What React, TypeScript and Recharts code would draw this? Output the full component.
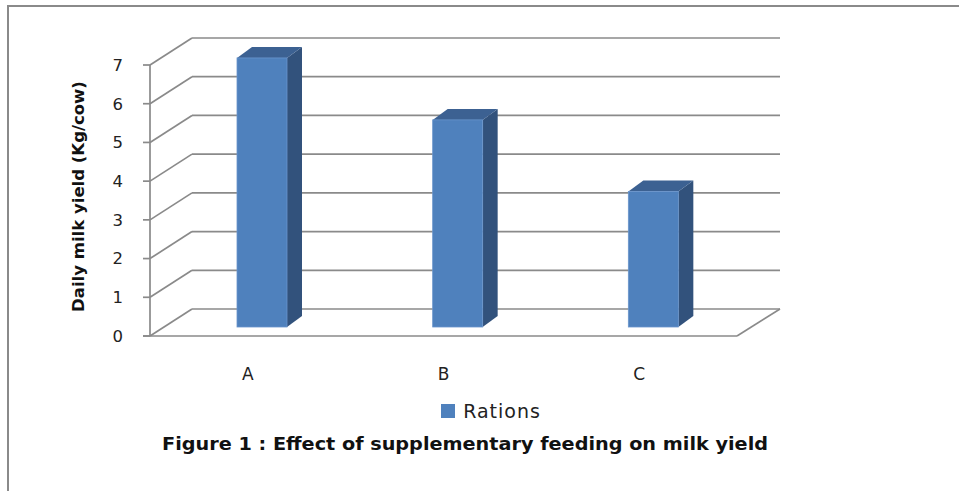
import React from 'react';
import { BarChart, Bar, XAxis, YAxis, CartesianGrid, Legend } from 'recharts';

const rations = ['A', 'B', 'C'];
const milkYield = [6.95, 5.35, 3.5];
const yTicks = [0, 1, 2, 3, 4, 5, 6, 7];

const data = rations.map((name, i) => ({ name, yield: milkYield[i] }));

// floor / back wall depth (front plane -> back wall)
const WALL_DX = 42;
const WALL_DY = -27;
// bars sit a third of the way into the floor, with their own depth
const BAR_OX = 14;
const BAR_OY = -9;
const BAR_DX = 15;
const BAR_DY = -11;

const GRID = '#8a8a8a';
const FONT = '"DejaVu Sans", sans-serif';

const Bar3D = (props: any) => {
  const { x, y, width, height } = props;
  if (!height || height <= 0) return null;
  const fx = x + BAR_OX;
  const fy = y + BAR_OY;
  const rx = fx + width;
  const by = fy + height;
  return (
    <g>
      <polygon
        points={`${rx},${fy} ${rx + BAR_DX},${fy + BAR_DY} ${rx + BAR_DX},${by + BAR_DY} ${rx},${by}`}
        fill="#32527c"
      />
      <polygon
        points={`${fx},${fy} ${fx + BAR_DX},${fy + BAR_DY} ${rx + BAR_DX},${fy + BAR_DY} ${rx},${fy}`}
        fill="#3c6192"
      />
      <rect x={fx} y={fy} width={width} height={height} fill="#4f81bd" stroke="#6a95cc" strokeWidth={0.8} />
    </g>
  );
};

// each horizontal grid line becomes a side-wall diagonal plus a back-wall line;
// the zero line also draws the front edge of the floor
const WallLine = (props: any) => {
  const { x1, x2, y1, y, height } = props;
  const bx = x1 + WALL_DX;
  const by = y1 + WALL_DY;
  const isFloor = y != null && height != null && Math.abs(y1 - (y + height)) < 0.5;
  return (
    <g key={props.key} fill="none" stroke={GRID} strokeWidth={1.7}>
      <line x1={x1} y1={y1} x2={bx} y2={by} />
      <line x1={bx} y1={by} x2={x2 + WALL_DX + 1} y2={by} />
      {isFloor && (
        <>
          <line x1={x1 - 7} y1={y1} x2={x2} y2={y1} />
          <line x1={x2} y1={y1} x2={x2 + WALL_DX + 1} y2={by} />
        </>
      )}
    </g>
  );
};

const YLabel = (props: any) => {
  const { viewBox } = props;
  const cx = 78;
  const cy = viewBox.y + viewBox.height / 2 - 4;
  return (
    <text
      x={cx}
      y={cy}
      transform={`rotate(-90 ${cx} ${cy})`}
      textAnchor="middle"
      dominantBaseline="central"
      fontFamily={FONT}
      fontWeight="bold"
      fontSize={16.5}
      fill="#111"
    >
      Daily milk yield (Kg/cow)
    </text>
  );
};

const LegendBox = () => (
  <div
    style={{
      display: 'flex',
      justifyContent: 'center',
      alignItems: 'center',
      paddingLeft: 23,
      fontFamily: FONT,
      fontSize: 19,
      letterSpacing: 1,
      color: '#222',
    }}
  >
    <span style={{ display: 'inline-block', width: 14, height: 14, background: '#4f81bd', marginRight: 8 }} />
    <span>Rations</span>
  </div>
);

export default function App() {
  return (
    <div style={{ position: 'relative', width: 959, height: 491, background: '#fff', overflow: 'hidden' }}>
      <style>{'body{margin:0}'}</style>
      <div
        style={{
          position: 'absolute',
          left: 7,
          top: 5,
          width: 980,
          height: 520,
          borderTop: '2px solid #8a8a8a',
          borderLeft: '2px solid #8a8a8a',
        }}
      />
      <BarChart
        width={959}
        height={491}
        data={data}
        margin={{ top: 65, right: 222, bottom: 125, left: 0 }}
        style={{ position: 'absolute', left: 0, top: 0 }}
      >
        <CartesianGrid vertical={false} horizontal={(p: any) => <WallLine {...p} />} />
        <XAxis
          dataKey="name"
          axisLine={false}
          tickLine={false}
          tickSize={0}
          tickMargin={32}
          tick={{ fontFamily: FONT, fontSize: 17, fill: '#222' }}
          height={30}
        />
        <YAxis
          width={150}
          domain={[0, 7]}
          ticks={yTicks}
          interval={0}
          tickSize={7}
          tickMargin={20}
          axisLine={{ stroke: GRID, strokeWidth: 1.7 }}
          tickLine={{ stroke: GRID, strokeWidth: 1.7 }}
          tick={{ fontFamily: FONT, fontSize: 16.5, fill: '#222' }}
          label={<YLabel />}
        />
        <Legend
          layout="horizontal"
          verticalAlign="middle"
          align="center"
          wrapperStyle={{ top: 400, left: 0, width: 959 }}
          content={<LegendBox />}
        />
        <Bar dataKey="yield" name="Rations" barSize={50} shape={<Bar3D />} isAnimationActive={false} />
      </BarChart>
      <svg width={959} height={491} style={{ position: 'absolute', left: 0, top: 0, pointerEvents: 'none' }}>
        <text
          x={162}
          y={450}
          textLength={606}
          lengthAdjust="spacingAndGlyphs"
          fontFamily={FONT}
          fontWeight="bold"
          fontSize={17.5}
          fill="#111"
        >
          Figure 1 : Effect of supplementary feeding on milk yield
        </text>
      </svg>
    </div>
  );
}
